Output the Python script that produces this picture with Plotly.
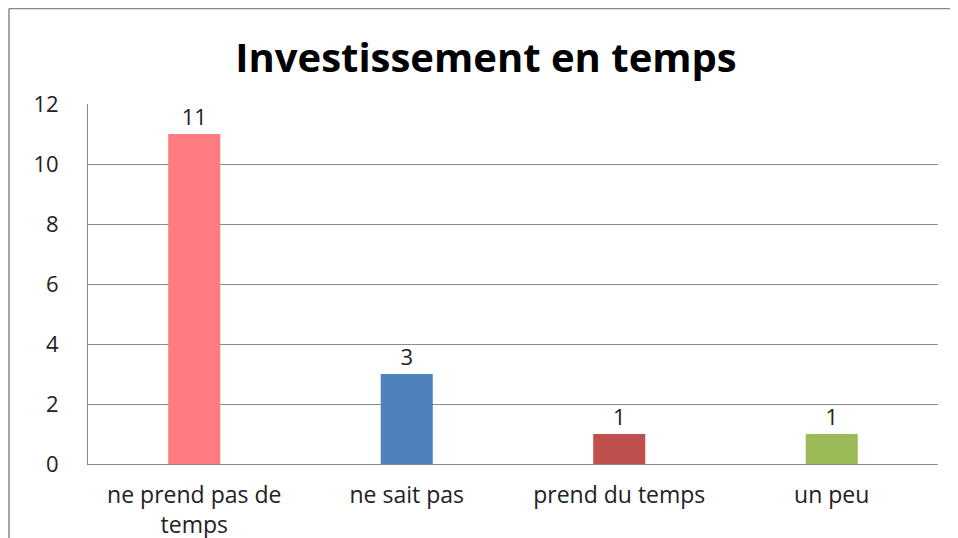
import plotly.graph_objects as go

categories = ["ne prend pas de<br>temps", "ne sait pas", "prend du temps", "un peu"]
values = [11, 3, 1, 1]
colors = ["#FF7C80", "#4F81BD", "#C0504D", "#9BBB59"]
y_ticks = [0, 2, 4, 6, 8, 10, 12]

FONT = "'Open Sans', sans-serif"

# page has an 8px body margin; figure sits at (8, 8)
OFF = 8
W, H = 958 - OFF, 538 - OFF
L, R, T, B = 88 - OFF, 938 - OFF, 104 - OFF, 464 - OFF

fig = go.Figure(go.Bar(
    x=categories, y=values,
    marker=dict(color=colors, line=dict(width=0)),
    text=[str(v) for v in values], textposition="outside",
    textfont=dict(size=22, color="#222", family=FONT),
    cliponaxis=False,
    width=0.245,
))

fig.update_layout(
    width=W, height=H,
    margin=dict(l=L, r=W - R, t=T, b=H - B, autoexpand=False),
    paper_bgcolor="white", plot_bgcolor="white",
    title=dict(text="<b>Investissement en temps</b>", x=(486 - OFF) / W, xanchor="center",
               xref="container", y=1 - (58 - OFF) / H, yanchor="middle",
               font=dict(size=40, color="black", family=FONT)),
    showlegend=False,
    font=dict(family=FONT, size=22, color="#222"),
    yaxis=dict(range=[0, 12], tickvals=y_ticks, showgrid=True, gridcolor="#8c8c8c",
               gridwidth=1, showline=True, linecolor="#8c8c8c", linewidth=1,
               zeroline=False, ticks="", ticklabelstandoff=24, automargin=False,
               tickfont=dict(size=22, color="#222")),
    xaxis=dict(showline=True, linecolor="#8c8c8c", linewidth=1, mirror=False,
               ticks="", tickfont=dict(size=23, color="#222"), ticklabelstandoff=10,
               automargin=False),
)

pw, ph = R - L, B - T
def px(x):
    return (x - L) / pw
def py(y):
    return (B - y) / ph

fig.add_shape(type="line", xref="paper", yref="paper",
              x0=px(1), x1=px(W + 5), y0=py(0.5), y1=py(0.5),
              line=dict(color="#888888", width=1.5))
fig.add_shape(type="line", xref="paper", yref="paper",
              x0=px(1), x1=px(1), y0=py(0.5), y1=py(H + 5),
              line=dict(color="#888888", width=1.5))

fig.write_html("out.html")
